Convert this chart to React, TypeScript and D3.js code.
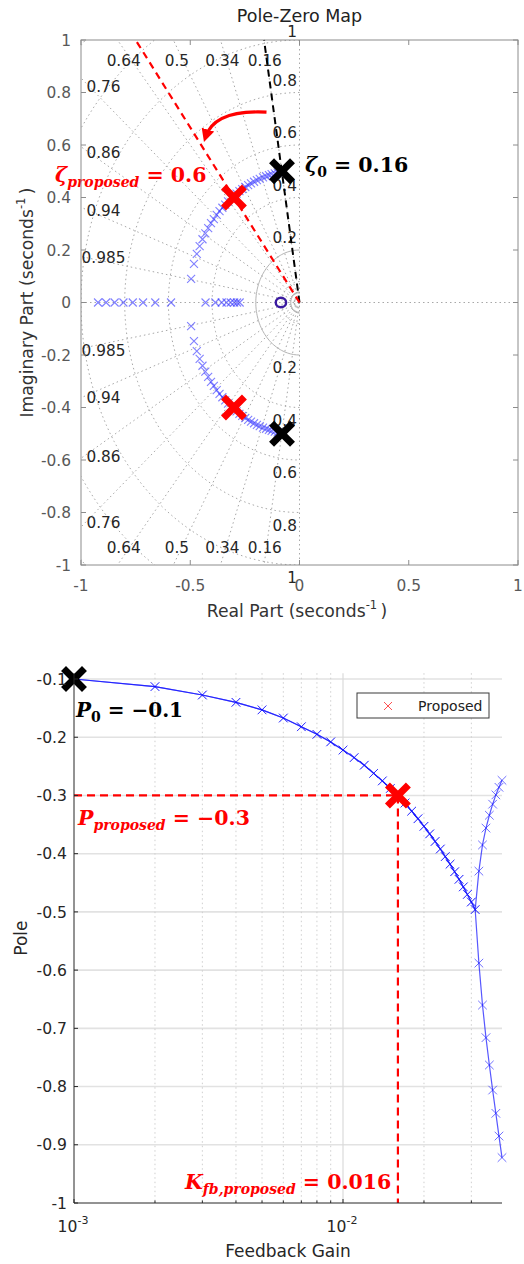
import React from "react";
import * as d3 from "d3";

// Feedback gain sweep and the resulting closed-loop poles
const gains = [
  0.001, 0.002, 0.003, 0.004, 0.005, 0.006, 0.007, 0.008, 0.009, 0.01,
  0.011, 0.012, 0.013, 0.014, 0.015, 0.016, 0.017, 0.018, 0.019, 0.02,
  0.021, 0.022, 0.023, 0.024, 0.025, 0.026, 0.027, 0.028, 0.029, 0.03,
  0.031, 0.032, 0.033, 0.034, 0.035, 0.036, 0.037, 0.038, 0.039,
];
// complex pair (gains 0.001 .. 0.031)
const complexReal = [
  -0.1, -0.113, -0.1275, -0.14, -0.153, -0.167, -0.182, -0.195, -0.208, -0.222,
  -0.235, -0.248, -0.262, -0.275, -0.288, -0.3, -0.313, -0.327, -0.34, -0.353,
  -0.366, -0.379, -0.392, -0.405, -0.418, -0.431, -0.444, -0.457, -0.47, -0.483,
  -0.496,
];
const complexImag = [
  0.495, 0.492, 0.489, 0.485, 0.481, 0.477, 0.471, 0.466, 0.46, 0.454,
  0.447, 0.44, 0.432, 0.424, 0.415, 0.406, 0.396, 0.385, 0.373, 0.361,
  0.348, 0.334, 0.318, 0.302, 0.283, 0.263, 0.241, 0.215, 0.185, 0.147,
  0.09,
];
// two real poles after breakaway (gains 0.032 .. 0.039)
const realUp = [-0.43, -0.385, -0.356, -0.334, -0.315, -0.299, -0.286, -0.274];
const realDown = [-0.588, -0.66, -0.716, -0.763, -0.806, -0.846, -0.885, -0.922];

const zeroReal = -0.085;
const initialPole = { re: -0.08, im: 0.5 };
const proposedPole = { re: -0.3, im: 0.4 };
const zeta0 = 0.16;
const zetaProposed = 0.6;
const k0 = 0.001;
const p0 = -0.1;
const kProposed = 0.016;
const pProposed = -0.3;

const dampingRatios = [0.16, 0.34, 0.5, 0.64, 0.76, 0.86, 0.94, 0.985];
const naturalFreqs = [0.2, 0.4, 0.6, 0.8, 1, 1.2, 1.4];
const naturalFreqLabels = [0.2, 0.4, 0.6, 0.8, 1];
const pzXTicks = [-1, -0.5, 0, 0.5, 1];
const pzYTicks = [-1, -0.8, -0.6, -0.4, -0.2, 0, 0.2, 0.4, 0.6, 0.8, 1];
const poleTicks = [-1, -0.9, -0.8, -0.7, -0.6, -0.5, -0.4, -0.3, -0.2, -0.1];
const gainMajor = [0.001, 0.01];
const gainMinor = [0.002, 0.003, 0.004, 0.005, 0.006, 0.007, 0.008, 0.009, 0.02, 0.03];

const SANS = "'DejaVu Sans', sans-serif";
const MATH = "'DejaVu Serif', serif";

const fmt = (v: number) => String(Math.round(v * 1000) / 1000);

function Cross({ x, y, h, color, width, opacity }: any) {
  return (
    <path
      d={`M${x - h},${y - h}L${x + h},${y + h}M${x - h},${y + h}L${x + h},${y - h}`}
      stroke={color}
      strokeWidth={width}
      strokeOpacity={opacity}
      fill="none"
    />
  );
}

function BigX({ x, y, color }: any) {
  const h = 8;
  return (
    <path
      d={`M${x - h},${y - h}L${x + h},${y + h}M${x - h},${y + h}L${x + h},${y - h}`}
      stroke={color}
      strokeWidth={7}
      strokeLinecap="square"
      fill="none"
    />
  );
}

function PoleZeroMap() {
  const x = d3.scaleLinear().domain([-1, 1]).range([81, 518]);
  const y = d3.scaleLinear().domain([-1, 1]).range([565, 40]);
  const gridColor = "#a8a8a8";

  const arc = (r: number) => {
    const pts = d3.range(90, 270.5, 2).map((deg) => {
      const t = (deg * Math.PI) / 180;
      return [x(r * Math.cos(t)), y(r * Math.sin(t))] as [number, number];
    });
    return d3.line()(pts) || "";
  };

  const zetaLabel = (z: number, sign: number) => {
    const s = Math.sqrt(1 - z * z) / z;
    if (0.9 * s > 0.92) {
      return { lx: -0.92 / s - 0.06 * z, ly: sign > 0 ? 0.92 : -0.935 };
    }
    return { lx: -0.897, ly: sign * (0.962 * s + (sign < 0 ? 0.016 : 0)) };
  };

  const ray = (z: number, sign: number) =>
    `M${x(0)},${y(0)}L${x(-2 * z)},${y(sign * 2 * Math.sqrt(1 - z * z))}`;

  const toTop = (z: number) => {
    const s = Math.sqrt(1 - z * z) / z;
    return `M${x(0)},${y(0)}L${x(-1 / s)},${y(1)}`;
  };

  const arrowStart = [x(-0.151), y(0.725)];
  const arrowCtrl = [x(-0.39), y(0.735)];
  const arrowEnd = [x(-0.43), y(0.63)];

  return (
    <g>
      <defs>
        <clipPath id="pzclip">
          <rect x={x(-1)} y={y(1)} width={x(1) - x(-1)} height={y(-1) - y(1)} />
        </clipPath>
        <marker
          id="redhead"
          viewBox="0 0 10 10"
          refX="6"
          refY="5"
          markerWidth="13"
          markerHeight="13"
          markerUnits="userSpaceOnUse"
          orient="auto"
        >
          <path d="M0,0L10,5L0,10z" fill="#ff0000" />
        </marker>
      </defs>

      <text x={x(0)} y={22} textAnchor="middle" fontFamily={SANS} fontSize={17.5} fill="#222">
        Pole-Zero Map
      </text>

      <g clipPath="url(#pzclip)">
        {naturalFreqs.map((r) => (
          <path
            key={`c${r}`}
            d={arc(r)}
            fill="none"
            stroke={r === 0.2 ? "#b4b4b4" : gridColor}
            strokeWidth={1}
            strokeDasharray={r === 0.2 ? undefined : "1.5 3"}
          />
        ))}
        <path d={arc(0.04)} fill="none" stroke="#a0a0a0" strokeWidth={1} />
        <path d={arc(0.08)} fill="none" stroke={gridColor} strokeWidth={1} strokeDasharray="1.5 3" />
        {dampingRatios.map((z) => (
          <g key={`z${z}`}>
            <path d={ray(z, 1)} stroke={gridColor} strokeWidth={1} strokeDasharray="1.5 3" />
            <path d={ray(z, -1)} stroke={gridColor} strokeWidth={1} strokeDasharray="1.5 3" />
          </g>
        ))}
        <line x1={x(-1)} x2={x(1)} y1={y(0)} y2={y(0)} stroke={gridColor} strokeDasharray="1.5 3" />
        <line x1={x(0)} x2={x(0)} y1={y(1)} y2={y(-1)} stroke={gridColor} strokeDasharray="1.5 3" />
      </g>

      {dampingRatios.map((z) => {
        const up = zetaLabel(z, 1);
        const dn = zetaLabel(z, -1);
        return (
          <g key={`zl${z}`} fontFamily={SANS} fontSize={15.3} fill="#262626" textAnchor="middle">
            <text x={x(up.lx)} y={y(up.ly)} dominantBaseline="central">{fmt(z)}</text>
            <text x={x(dn.lx)} y={y(dn.ly)} dominantBaseline="central">{fmt(z)}</text>
          </g>
        );
      })}
      {naturalFreqLabels.map((w) => (
        <g key={`wl${w}`} fontFamily={SANS} fontSize={15.3} fill="#262626" textAnchor="end">
          <text x={x(-0.012)} y={y(w + (w === 1 ? 0.03 : 0.045))} dominantBaseline="central">{fmt(w)}</text>
          <text x={x(-0.012)} y={y(-(w + 0.05))} dominantBaseline="central">{fmt(w)}</text>
        </g>
      ))}

      <path d={toTop(zeta0)} stroke="#000" strokeWidth={2} strokeDasharray="7 5" fill="none" />
      <path d={toTop(zetaProposed)} stroke="#ff0000" strokeWidth={2.2} strokeDasharray="7 5" fill="none" />

      {complexReal.map((re, i) => (
        <g key={`cp${i}`}>
          <Cross x={x(re)} y={y(complexImag[i])} h={4} color="#2b2bff" width={1.1} opacity={0.6} />
          <Cross x={x(re)} y={y(-complexImag[i])} h={4} color="#2b2bff" width={1.1} opacity={0.6} />
        </g>
      ))}
      {realUp.concat(realDown).map((re, i) => (
        <Cross key={`rp${i}`} x={x(re)} y={y(0)} h={4} color="#2b2bff" width={1.1} opacity={0.6} />
      ))}

      <ellipse cx={x(zeroReal)} cy={y(0)} rx={5.2} ry={4.8} fill="none" stroke="#3a1aa0" strokeWidth={2.4} />

      <BigX x={x(proposedPole.re)} y={y(proposedPole.im)} color="#ff0000" />
      <BigX x={x(proposedPole.re)} y={y(-proposedPole.im)} color="#ff0000" />
      <BigX x={x(initialPole.re)} y={y(initialPole.im)} color="#000" />
      <BigX x={x(initialPole.re)} y={y(-initialPole.im)} color="#000" />

      <path
        d={`M${arrowStart[0]},${arrowStart[1]}Q${arrowCtrl[0]},${arrowCtrl[1]} ${arrowEnd[0]},${arrowEnd[1]}`}
        stroke="#ff0000"
        strokeWidth={3.2}
        fill="none"
        markerEnd="url(#redhead)"
      />

      <text x={305} y={172} fontFamily={MATH} fontWeight="bold" fontSize={20.5} fill="#000">
        <tspan fontStyle="italic">ζ</tspan>
        <tspan fontSize={14} dy={5}>0</tspan>
        <tspan dy={-5}> = 0.16</tspan>
      </text>
      <text x={55} y={182} fontFamily={MATH} fontWeight="bold" fontSize={20.5} fill="#ff0000">
        <tspan fontStyle="italic">ζ</tspan>
        <tspan fontSize={14} fontStyle="italic" dy={5}>proposed</tspan>
        <tspan dy={-5}> = 0.6</tspan>
      </text>

      <rect x={x(-1)} y={y(1)} width={x(1) - x(-1)} height={y(-1) - y(1)} fill="none" stroke="#8c8c8c" strokeWidth={1} />
      {pzXTicks.map((t) => (
        <g key={`xt${t}`}>
          <line x1={x(t)} x2={x(t)} y1={y(-1)} y2={y(-1) - 5} stroke="#8c8c8c" />
          <line x1={x(t)} x2={x(t)} y1={y(1)} y2={y(1) + 5} stroke="#8c8c8c" />
          <text x={x(t)} y={591} textAnchor="middle" fontFamily={SANS} fontSize={15.4} fill="#595959">
            {fmt(t)}
          </text>
        </g>
      ))}
      {pzYTicks.map((t) => (
        <g key={`yt${t}`}>
          <line x1={x(-1)} x2={x(-1) + 5} y1={y(t)} y2={y(t)} stroke="#8c8c8c" />
          <line x1={x(1)} x2={x(1) - 5} y1={y(t)} y2={y(t)} stroke="#8c8c8c" />
          <text x={71} y={y(t)} dy="0.36em" textAnchor="end" fontFamily={SANS} fontSize={15.4} fill="#595959">
            {fmt(t)}
          </text>
        </g>
      ))}

      <text x={297} y={617} textAnchor="middle" fontFamily={SANS} fontSize={17.2} fill="#333">
        <tspan>Real Part (seconds</tspan>
        <tspan fontSize={11.5} dy={-8}>-1</tspan>
        <tspan dy={8}>{"\u2009)"}</tspan>
      </text>
      <text transform={`translate(33,${y(0)}) rotate(-90)`} textAnchor="middle" fontFamily={SANS} fontSize={17.2} fill="#333">
        <tspan>Imaginary Part (seconds</tspan>
        <tspan fontSize={11.5} dy={-8}>-1</tspan>
        <tspan dy={8}>{"\u2009)"}</tspan>
      </text>
    </g>
  );
}

function GainPlot() {
  const x = d3.scaleLog().domain([0.001, 0.039]).range([74, 502]);
  const y = d3.scaleLinear().domain([-1, -0.09]).range([1203, 673.2]);
  const axisColor = "#262626";

  const branchUp = gains.map((k, i) => ({ k, p: i < complexReal.length ? complexReal[i] : realUp[i - complexReal.length] }));
  const branchDown = gains.map((k, i) => ({ k, p: i < complexReal.length ? complexReal[i] : realDown[i - complexReal.length] }));
  const line = d3
    .line<{ k: number; p: number }>()
    .x((d) => x(d.k))
    .y((d) => y(d.p));

  const [x0, x1] = x.range();
  const [yb, yt] = y.range();

  return (
    <g>
      {poleTicks.slice(1).map((t) => (
        <line key={`hg${t}`} x1={x0} x2={x1} y1={y(t)} y2={y(t)} stroke="#e2e2e2" strokeWidth={1.6} />
      ))}
      {gainMinor.map((t) => (
        <line key={`vm${t}`} x1={x(t)} x2={x(t)} y1={yt} y2={yb} stroke="#cfcfcf" strokeWidth={1} strokeDasharray="1.5 3" />
      ))}
      <line x1={x(0.01)} x2={x(0.01)} y1={yt} y2={yb} stroke="#dadada" strokeWidth={1.2} />

      <line x1={x0} x2={x(kProposed)} y1={y(pProposed)} y2={y(pProposed)} stroke="#ff0000" strokeWidth={2.2} strokeDasharray="8 5" />
      <line x1={x(kProposed)} x2={x(kProposed)} y1={y(pProposed)} y2={yb} stroke="#ff0000" strokeWidth={2.2} strokeDasharray="8 5" />

      {[branchUp, branchDown].map((b, j) => (
        <g key={`b${j}`}>
          <path d={line(b) || ""} fill="none" stroke="#1010ff" strokeWidth={1.2} strokeOpacity={0.7} />
          {b.map((d, i) => (
            <Cross key={i} x={x(d.k)} y={y(d.p)} h={4.3} color="#1010ff" width={1} opacity={0.6} />
          ))}
        </g>
      ))}

      <BigX x={x(k0)} y={y(p0)} color="#000" />
      <BigX x={x(kProposed)} y={y(pProposed)} color="#ff0000" />

      <line x1={x0} x2={x0} y1={yt} y2={yb} stroke={axisColor} strokeWidth={1} />
      <line x1={x0} x2={x1} y1={yb} y2={yb} stroke={axisColor} strokeWidth={1} />
      {poleTicks.map((t) => (
        <g key={`pt${t}`}>
          <line x1={x0} x2={x0 + 4} y1={y(t)} y2={y(t)} stroke={axisColor} />
          <text x={67} y={y(t)} dy="0.36em" textAnchor="end" fontFamily={SANS} fontSize={15.6} fill={axisColor}>
            {fmt(t)}
          </text>
        </g>
      ))}
      {gainMajor.map((t) => (
        <g key={`gt${t}`}>
          <line x1={x(t)} x2={x(t)} y1={yb} y2={yb - 4} stroke={axisColor} />
          <text x={x(t) - 1} y={1232} textAnchor="middle" fontFamily={SANS} fontSize={15.6} fill={axisColor}>
            <tspan>10</tspan>
            <tspan fontSize={11} dy={-8}>{String(Math.round(Math.log10(t)))}</tspan>
          </text>
        </g>
      ))}
      {gainMinor.map((t) => (
        <line key={`gm${t}`} x1={x(t)} x2={x(t)} y1={yb} y2={yb - 2.5} stroke={axisColor} />
      ))}

      <text x={(x0 + x1) / 2} y={1257} textAnchor="middle" fontFamily={SANS} fontSize={17} fill={axisColor}>
        Feedback Gain
      </text>
      <text transform={`translate(27,${(yt + yb) / 2}) rotate(-90)`} textAnchor="middle" fontFamily={SANS} fontSize={17} fill={axisColor}>
        Pole
      </text>

      <g>
        <rect x={357} y={693} width={132} height={25} fill="#fff" stroke="#3a3a3a" strokeWidth={1} />
        <Cross x={388} y={706} h={4} color="#ff5050" width={1} opacity={1} />
        <text x={418} y={711} fontFamily={SANS} fontSize={14} fill="#222">Proposed</text>
      </g>

      <text x={76} y={717} fontFamily={MATH} fontWeight="bold" fontSize={20} fill="#000">
        <tspan fontStyle="italic">P</tspan>
        <tspan fontSize={14} dy={5}>0</tspan>
        <tspan dy={-5}>{" = \u22120.1"}</tspan>
      </text>
      <text x={78} y={825} fontFamily={MATH} fontWeight="bold" fontSize={20.5} fill="#ff0000">
        <tspan fontStyle="italic">P</tspan>
        <tspan fontSize={14} fontStyle="italic" dy={5}>proposed</tspan>
        <tspan dy={-5}>{" = \u22120.3"}</tspan>
      </text>
      <text x={185} y={1189} fontFamily={MATH} fontWeight="bold" fontSize={20.5} fill="#ff0000">
        <tspan fontStyle="italic">K</tspan>
        <tspan fontSize={14} fontStyle="italic" dy={5}>fb,proposed</tspan>
        <tspan dy={-5}> = 0.016</tspan>
      </text>
    </g>
  );
}

export default function App() {
  return (
    <svg
      width={524}
      height={1264}
      viewBox="0 0 524 1264"
      style={{ position: "absolute", left: 0, top: 0, background: "#fff" }}
    >
      <rect width={524} height={1264} fill="#fff" />
      <PoleZeroMap />
      <GainPlot />
    </svg>
  );
}
